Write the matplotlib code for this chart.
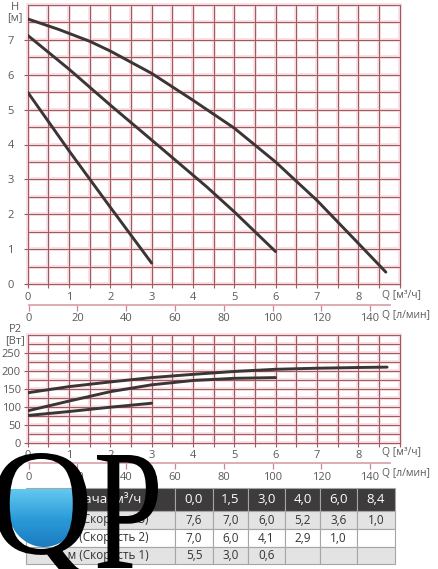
import numpy as np
import matplotlib
matplotlib.use('Agg')
import matplotlib.pyplot as plt
import matplotlib.transforms as mtransforms
from matplotlib.patches import Ellipse, PathPatch
from matplotlib.textpath import TextPath
from matplotlib.font_manager import FontProperties
from matplotlib.colors import LinearSegmentedColormap

plt.rcParams['font.family'] = ['Open Sans', 'DejaVu Sans']

# --- data ---
# head curves H [m] vs Q [m3/h]
q_s3 = [0, 0.75, 1.5, 2, 3, 4, 5, 6, 7, 8, 8.67]
h_s3 = [7.6, 7.3, 6.96, 6.68, 6.04, 5.27, 4.47, 3.5, 2.4, 1.17, 0.34]
q_s2 = [0, 1, 2, 3, 4.33, 5, 6]
h_s2 = [7.13, 6.16, 5.13, 4.13, 2.79, 2.07, 0.93]
q_s1 = [0, 1, 2, 3]
h_s1 = [5.5, 3.82, 2.2, 0.6]

# power curves P2 [W] vs Q [m3/h]
qp_s3 = [0, 1, 2, 3, 4, 5, 6, 7, 8, 8.7]
p_s3 = [140, 157, 170, 182, 191, 199, 205, 208, 210, 211]
qp_s2 = [0, 1, 2, 3, 4, 5, 6]
p_s2 = [90, 117, 143, 162, 174, 180, 182]
qp_s1 = [0, 1, 2, 3]
p_s1 = [77, 88, 100, 111]

q_ticks = list(range(0, 9))
h_ticks = list(range(0, 8))
p_ticks = [0, 50, 100, 150, 200, 250]
lmin_ticks = [0, 20, 40, 60, 80, 100, 120, 140]

tab_header = ['Подача, м³/ч', '0,0', '1,5', '3,0', '4,0', '6,0', '8,4']
tab_rows = [
    ['Н, м (Скорость 3)', '7,6', '7,0', '6,0', '5,2', '3,6', '1,0'],
    ['Н, м (Скорость 2)', '7,0', '6,0', '4,1', '2,9', '1,0', ''],
    ['Н, м (Скорость 1)', '5,5', '3,0', '0,6', '', '', ''],
]

W, H = 438, 569
fig = plt.figure(figsize=(W / 100, H / 100), dpi=100)
fig.patch.set_facecolor('white')

GRID = '#a05a64'
GLOW = '#f8e1e4'
CURVE = '#3b3535'
TXT = '#5a5a5a'
AX_L, AX_R = 27.7, 399.5


def fx(px):
    return px / W


def fy(py):
    return 1 - py / H


def grid_axes(top, bottom, ymax, ystep):
    ax = fig.add_axes([fx(AX_L), fy(bottom), fx(AX_R) - fx(AX_L), (bottom - top) / H])
    ax.set_xlim(0, 9)
    ax.set_ylim(0, ymax)
    for x in np.arange(0, 9.01, 0.5):
        ax.axvline(x, color=GLOW, lw=2.8, zorder=0, clip_on=False)
        ax.axvline(x, color=GRID, lw=0.8, zorder=1, clip_on=False)
    for y in np.arange(0, ymax + 0.01, ystep):
        ax.axhline(y, color=GLOW, lw=2.8, zorder=0, clip_on=False)
        ax.axhline(y, color=GRID, lw=0.8, zorder=1, clip_on=False)
    for s in ax.spines.values():
        s.set_visible(False)
    ax.set_xticks(q_ticks)
    ax.set_xticks(np.arange(0, 9.01, 0.5), minor=True)
    ax.tick_params(which='both', colors=GRID, length=3, width=0.8,
                   labelcolor=TXT, labelsize=8)
    return ax


def lmin_axis(py_line):
    # l/min scale, drawn a little shorter than the m3/h axis as in the original
    axs = fig.add_axes([fx(28.7), fy(py_line), fx(394.4) - fx(28.7), 1e-4])
    axs.patch.set_visible(False)
    axs.set_xlim(0, 150)
    axs.set_yticks([])
    for k in ['left', 'right', 'top']:
        axs.spines[k].set_visible(False)
    axs.spines['bottom'].set_color('#dba6ad')
    axs.spines['bottom'].set_linewidth(1.3)
    axs.spines['bottom'].set_bounds(0, 148)
    axs.set_xticks(lmin_ticks)
    axs.tick_params(direction='out', length=4, width=0.9, colors='#c98a93',
                    labelcolor=TXT, labelsize=8, pad=2)
    return axs


# --- head chart ---
ax1 = grid_axes(5, 284, 8, 0.5)
ax1.set_yticks(h_ticks)
ax1.tick_params(axis='y', pad=7)
ax1.tick_params(axis='x', pad=3)
for q, h in [(q_s3, h_s3), (q_s2, h_s2), (q_s1, h_s1)]:
    ax1.plot(q, h, color=CURVE, lw=2.1, solid_capstyle='round',
             solid_joinstyle='round', zorder=3)
fig.text(fx(15), fy(7), 'H', fontsize=8, color=TXT, ha='center', va='center')
fig.text(fx(15), fy(18), '[м]', fontsize=8, color=TXT, ha='center', va='center')
fig.text(fx(382), fy(295), 'Q [м³/ч]', fontsize=7.5, color=TXT, ha='left', va='center')
lmin_axis(305)
fig.text(fx(382), fy(315.7), 'Q [л/мин]', fontsize=7.5, color=TXT, ha='left', va='center')

# --- power chart ---
ax2 = grid_axes(335, 443.3, 300, 25)
ax2.set_yticks(p_ticks)
ax2.tick_params(axis='y', pad=2)
ax2.tick_params(axis='x', pad=2)
for q, p in [(qp_s3, p_s3), (qp_s2, p_s2), (qp_s1, p_s1)]:
    ax2.plot(q, p, color=CURVE, lw=2.1, solid_capstyle='round',
             solid_joinstyle='round', zorder=3)
fig.text(fx(15), fy(330), 'P2', fontsize=8, color=TXT, ha='center', va='center')
fig.text(fx(15), fy(341), '[Вт]', fontsize=8, color=TXT, ha='center', va='center')
fig.text(fx(382), fy(452.7), 'Q [м³/ч]', fontsize=7.5, color=TXT, ha='left', va='center')
lmin_axis(463.3)
fig.text(fx(382), fy(473.3), 'Q [л/мин]', fontsize=7.5, color=TXT, ha='left', va='center')

# --- table ---
ax_tab = fig.add_axes([fx(26), fy(564), fx(395) - fx(26), (564 - 488) / H])
ax_tab.axis('off')
tab = ax_tab.table(cellText=tab_rows, colLabels=tab_header,
                   colWidths=[149, 38, 35, 37, 35, 37, 38],
                   cellLoc='center', bbox=[0, 0, 1, 1])
tab.auto_set_font_size(False)
tab.set_fontsize(8.5)
row_h = {0: 23, 1: 18, 2: 18, 3: 17}
for (r, c), cell in tab.get_celld().items():
    cell.set_edgecolor('#a5a5a5')
    cell.set_linewidth(0.8)
    cell.set_height(row_h[r])
    if r == 0:
        cell.set_facecolor('#3d3b3b')
        cell.get_text().set_color('white')
        cell.get_text().set_fontsize(9.5)
    else:
        cell.set_facecolor('#e3e3e3' if r in (1, 3) else 'white')
        cell.get_text().set_color('#333333')

# --- QP logo overlay ---
ax_logo = fig.add_axes([0, 0, 1, 1])
ax_logo.set_xlim(0, W)
ax_logo.set_ylim(H, 0)
ax_logo.axis('off')
ax_logo.patch.set_visible(False)

water = Ellipse((44, 505), 74, 84, facecolor='none', edgecolor='none')
ax_logo.add_patch(water)
grad = np.linspace(0, 1, 60)[:, None] * np.ones((1, 10))
img = ax_logo.imshow(grad, cmap=LinearSegmentedColormap.from_list(
    'water', ['#63c8f0', '#2a9ad8', '#1a78bd']), extent=(4, 84, 550, 489),
    aspect='auto', zorder=2)
img.set_clip_path(water)


def glyph(ch, x0, x1, ytop, ybot, prop):
    tp = TextPath((0, 0), ch, size=1, prop=prop)
    ext = tp.get_extents()
    sx = (x1 - x0) / ext.width
    sy = (ybot - ytop) / ext.height
    tr = mtransforms.Affine2D().translate(-ext.x0, -ext.y1).scale(sx, -sy).translate(x0, ytop)
    ax_logo.add_patch(PathPatch(tr.transform_path(tp), facecolor='black',
                                edgecolor='none', zorder=3))


serif = FontProperties(family='Liberation Serif')
glyph('Q', -5, 91, 453, 578, serif)
glyph('P', 97, 158, 455, 568, serif)

fig.savefig('out.png', dpi=100)
